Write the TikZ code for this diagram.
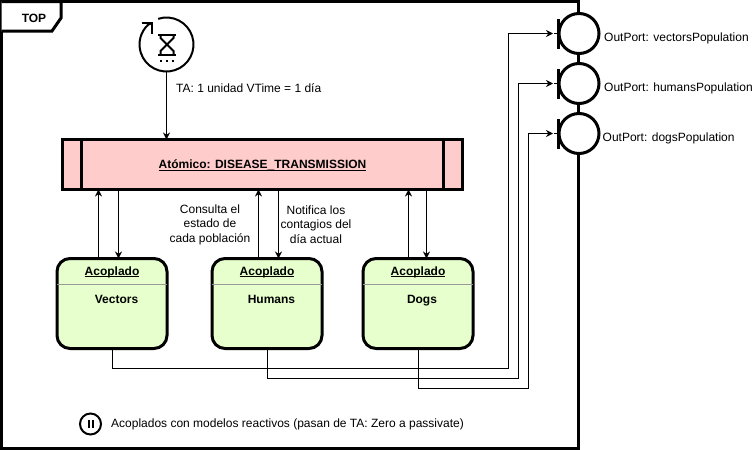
\documentclass[tikz,border=0pt]{standalone}
\usepackage{fontspec}
\setmainfont{Liberation Sans}
\usetikzlibrary{arrows.meta, positioning}
\definecolor{atomicfill}{RGB}{255, 204, 204}
\definecolor{coupledfill}{RGB}{230, 255, 204}
\definecolor{sepgrey}{RGB}{153, 153, 153}
\newcommand{\ultext}[1]{\underline{\smash{#1}}}
\tikzset{
    label12/.style={inner sep=0pt, align=center, font=\fontsize{12}{14.5}\selectfont},
    title12/.style={inner sep=0pt, align=center, anchor=base, font=\fontsize{12}{14.5}\selectfont\bfseries},
    atomic/.style={rectangle, draw=black, fill=atomicfill, line width=3pt, minimum width=400pt, minimum height=50pt, inner sep=0pt, outer sep=0pt, align=center},
    coupled/.style={rectangle, draw=black, fill=coupledfill, line width=3pt, minimum width=110pt, minimum height=90pt, inner sep=0pt, outer sep=0pt, rounded corners=13pt},
    port/.style={circle, draw=black, fill=white, line width=3pt, minimum size=40pt, inner sep=0pt, outer sep=0pt},
    arrow/.style={-{Stealth[length=7pt, width=7pt]}, black, line width=1pt},
    wire/.style={black, line width=1pt},
    thickline/.style={black, line width=3pt}
}
\begin{document}
\begin{tikzpicture}[x=1pt, y=-1pt]
            \useasboundingbox (0,0) rectangle (753,450);
            \draw [thickline, line join=miter] (1.5,1.5) rectangle (578.5,448.5);
            \draw [thickline, fill=white] (1.5,1.5) -- (61,1.5) -- (61,18) -- (52,31) -- (1.5,31);
            \node (top) [title12] at (34,22) {TOP};

            \node (clock) [circle, minimum size=54pt, inner sep=0pt, outer sep=0pt] at (166.5,44.5) {};
            \draw [line width=2pt] ([shift={(108:27pt)}]clock.center) arc [start angle=108, end angle=-227, radius=27pt] -- (152,23);
            \draw [line width=2pt] (141.5,22.7) -- (152.3,22.7) -- (152.3,33.7);
            \draw [line width=2pt] (158,34.7) -- (176,34.7) (158,54.7) -- (176,54.7);
            \draw [line width=2pt] (160.5,34.7) -- (160.5,38) -- (173.5,51) -- (173.5,54.7) (173.5,34.7) -- (173.5,38) -- (160.5,51) -- (160.5,54.7);
            \draw [line width=2pt, dash pattern=on 2pt off 3.7pt] (160.3,61.3) -- (174,61.3);

            \node (atomicBlock) [atomic] at (262.5,164.5) {};
            \draw [thickline] ([xshift=18.5pt]atomicBlock.north west) -- ([xshift=18.5pt]atomicBlock.south west);
            \draw [thickline] ([xshift=-19pt]atomicBlock.north east) -- ([xshift=-19pt]atomicBlock.south east);
            \node (atomicText) [title12] at (262.5,168.5) {\ultext{Atómico: DISEASE\_TRANSMISSION}};

            \node (vectors) [coupled] at (112,303.5) {};
            \node (humans) [coupled, right=45pt of vectors] {};
            \node (dogs) [coupled, right=41pt of humans] {};
            \draw [sepgrey, line width=1pt] ([yshift=-26pt]vectors.north west) -- ([yshift=-26pt]vectors.north east);
            \draw [sepgrey, line width=1pt] ([yshift=-26pt]humans.north west) -- ([yshift=-26pt]humans.north east);
            \draw [sepgrey, line width=1pt] ([yshift=-26pt]dogs.north west) -- ([yshift=-26pt]dogs.north east);
            \node (vectorsTitle) [title12] at (112,275) {\ultext{Acoplado}};
            \node (humansTitle) [title12] at (267,275) {\ultext{Acoplado}};
            \node (dogsTitle) [title12] at (418,275) {\ultext{Acoplado}};
            \node (vectorsName) [title12] at (116.5,303) {Vectors};
            \node (humansName) [title12] at (271.5,303) {Humans};
            \node (dogsName) [title12] at (422,303) {Dogs};

            \node (port1) [port] at (579,33.5) {};
            \node (port2) [port, below=10pt of port1] {};
            \node (port3) [port, below=10pt of port2] {};
            \draw [thickline] ([xshift=-0.5pt,yshift=-15pt]port1.west) -- ([xshift=-0.5pt,yshift=15pt]port1.west);
            \draw [thickline] ([xshift=-0.5pt,yshift=-15pt]port2.west) -- ([xshift=-0.5pt,yshift=15pt]port2.west);
            \draw [thickline] ([xshift=-0.5pt,yshift=-15pt]port3.west) -- ([xshift=-0.5pt,yshift=15pt]port3.west);
            \node (port1Text) [label12, right=5pt of port1, yshift=-5pt] {OutPort: vectorsPopulation};
            \node (port2Text) [label12, right=5pt of port2, yshift=-5pt] {OutPort: humansPopulation};
            \node (port3Text) [label12, right=3.5pt of port3, yshift=-5pt] {OutPort: dogsPopulation};

            \node (taText) [label12, anchor=west] at (176,88) {TA: 1 unidad VTime = 1 día};
            \node (queryText) [label12] at (210,224.5) {Consulta el\\estado de\\cada población};
            \node (notifyText) [label12] at (316,224.5) {Notifica los\\contagios del\\día actual};

            \node (pauseIcon) [circle, draw=black, fill=white, line width=2pt, minimum size=21pt, inner sep=0pt, outer sep=0pt] at (90.5,424) {};
            \draw [line width=2pt] ([xshift=-2pt,yshift=-4pt]pauseIcon.center) -- ([xshift=-2pt,yshift=4pt]pauseIcon.center);
            \draw [line width=2pt] ([xshift=2pt,yshift=-4pt]pauseIcon.center) -- ([xshift=2pt,yshift=4pt]pauseIcon.center);
            \node (pauseText) [label12, anchor=west] at (111,424) {Acoplados con modelos reactivos (pasan de TA: Zero a passivate)};

            \draw [arrow] (clock.south) -- (clock.south |- atomicBlock.north);

            \draw [arrow] ([xshift=41.5pt]vectors.north west) -- ([xshift=41.5pt]vectors.north west |- atomicBlock.south);
            \draw [arrow] ([xshift=61.5pt]vectors.north west |- atomicBlock.south) -- ([xshift=61.5pt]vectors.north west);
            \draw [arrow] ([xshift=46.5pt]humans.north west) -- ([xshift=46.5pt]humans.north west |- atomicBlock.south);
            \draw [arrow] ([xshift=66.5pt]humans.north west |- atomicBlock.south) -- ([xshift=66.5pt]humans.north west);
            \draw [arrow] ([xshift=45.5pt]dogs.north west) -- ([xshift=45.5pt]dogs.north west |- atomicBlock.south);
            \draw [arrow] ([xshift=63.5pt]dogs.north west |- atomicBlock.south) -- ([xshift=63.5pt]dogs.north west);

            \coordinate (turn1) at (508.5,368.5);
            \coordinate (turn2) at (518.5,378.5);
            \coordinate (turn3) at (528.5,388.5);
            \draw [arrow] (vectors.south) |- (turn1) |- ([xshift=-6pt]port1.west);
            \draw [arrow] (humans.south) |- (turn2) |- ([xshift=-6pt]port2.west);
            \draw [arrow] (dogs.south) |- (turn3) |- ([xshift=-6pt]port3.west);
            \draw [wire] ([xshift=-5pt]port1.west) -- ([xshift=-2pt]port1.west);
            \draw [wire] ([xshift=-5pt]port2.west) -- ([xshift=-2pt]port2.west);
            \draw [wire] ([xshift=-5pt]port3.west) -- ([xshift=-2pt]port3.west);
        \end{tikzpicture}
\end{document}
